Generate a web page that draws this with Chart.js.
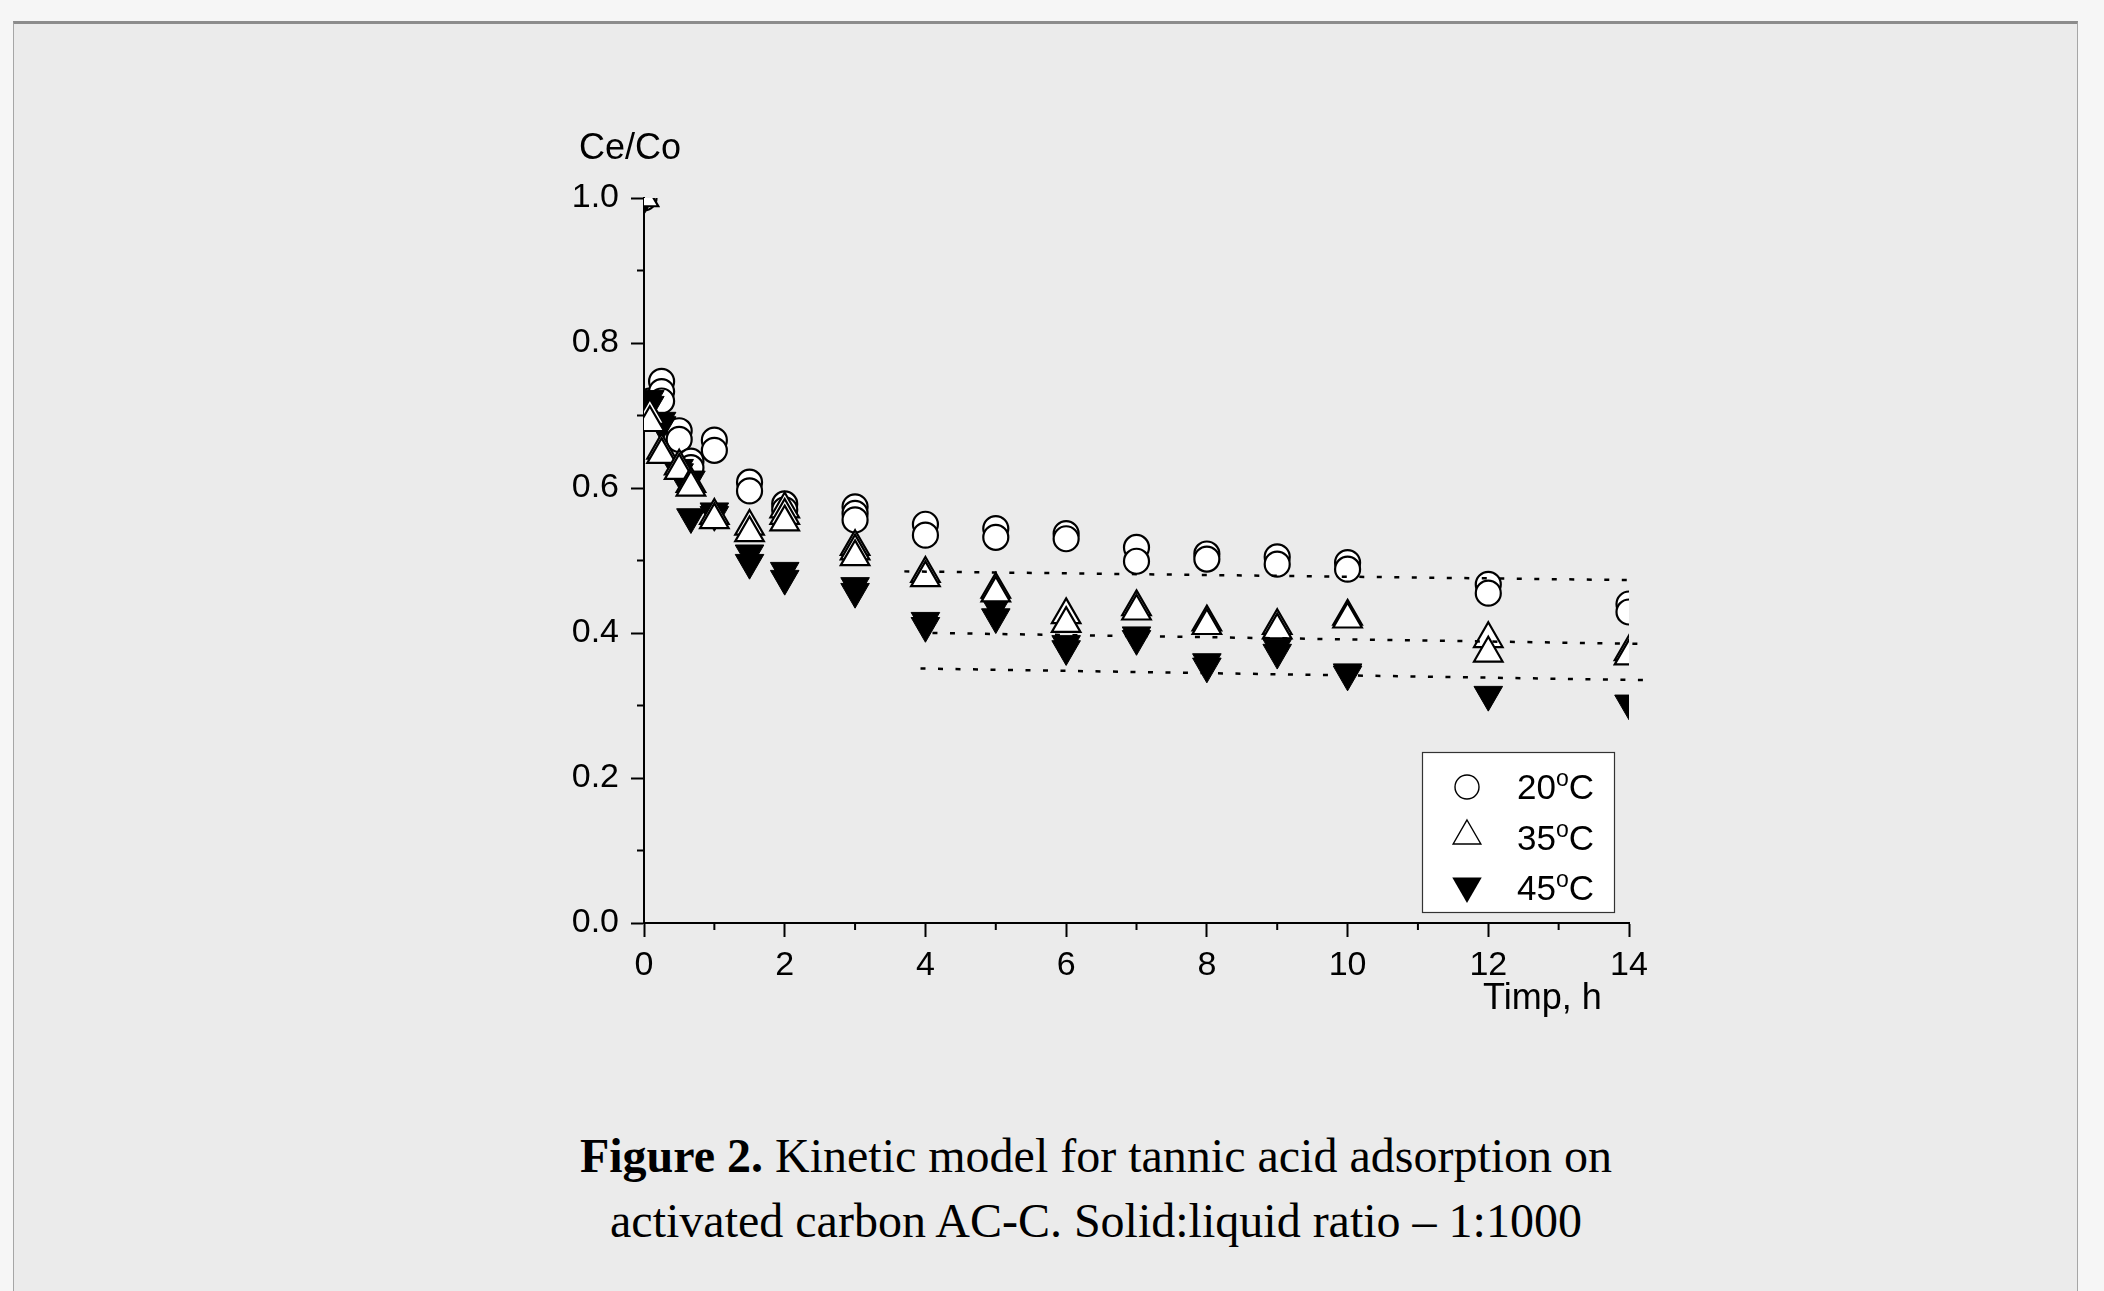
<!DOCTYPE html>
<html>
<head>
<meta charset="utf-8">
<script src="https://cdn.jsdelivr.net/npm/chart.js@4.4.0/dist/chart.umd.min.js"></script>
<style>
  html, body { margin: 0; padding: 0; }
  body { width: 2104px; height: 1291px; background: #f6f6f6; position: relative; overflow: hidden; }
  #card {
    position: absolute; left: 13px; top: 21px; width: 2063px; height: 1300px;
    background: #ebebeb; border: 1px solid #a6a6a6; border-top: 3px solid #8c8c8c;
  }
  #wrap { position: absolute; left: 0; top: 0; width: 2104px; height: 1060px; }
  #caption {
    position: absolute; left: 396px; top: 1123px; width: 1400px;
    text-align: center; font-family: "Liberation Serif", "Times New Roman", serif;
    font-size: 48px; line-height: 65px; color: #000;
  }
</style>
</head>
<body>
<div id="card"></div>
<div id="wrap"><canvas id="chart-kinetic"></canvas></div>
<div id="caption"><b>Figure 2.</b> Kinetic model for tannic acid adsorption on<br>activated carbon AC-C. Solid:liquid ratio – 1:1000</div>
<script>
// 20 oC (open circles)
const t20 = [0, 0.083, 0.083, 0.25, 0.25, 0.25, 0.5, 0.5, 0.667, 0.667, 1, 1, 1.5, 1.5, 2, 2, 3, 3, 3, 4, 4, 5, 5, 6, 6, 7, 7, 8, 8, 9, 9, 10, 10, 12, 12, 14, 14];
const c20 = [1.0, 0.72, 0.71, 0.747, 0.733, 0.72, 0.679, 0.667, 0.637, 0.628, 0.666, 0.652, 0.608, 0.596, 0.578, 0.570, 0.574, 0.565, 0.556, 0.550, 0.535, 0.544, 0.532, 0.537, 0.530, 0.518, 0.499, 0.509, 0.502, 0.505, 0.495, 0.497, 0.488, 0.467, 0.455, 0.440, 0.429];
// 35 oC (open triangles)
const t35 = [0, 0.083, 0.083, 0.25, 0.25, 0.5, 0.5, 0.667, 0.667, 1, 1, 1.5, 1.5, 2, 2, 2, 3, 3, 3, 4, 4, 5, 5, 6, 6, 7, 7, 8, 8, 9, 9, 10, 10, 12, 12, 14, 14];
const c35 = [1.0, 0.70, 0.69, 0.652, 0.646, 0.630, 0.624, 0.606, 0.601, 0.562, 0.556, 0.547, 0.538, 0.571, 0.562, 0.553, 0.519, 0.513, 0.505, 0.482, 0.476, 0.460, 0.455, 0.425, 0.413, 0.436, 0.430, 0.415, 0.410, 0.410, 0.404, 0.423, 0.419, 0.392, 0.372, 0.374, 0.368];
// 45 oC (filled down triangles)
const t45 = [0, 0.083, 0.083, 0.25, 0.25, 0.5, 0.5, 0.667, 0.667, 1, 1, 1.5, 1.5, 2, 2, 3, 3, 4, 4, 5, 5, 6, 6, 7, 7, 8, 8, 9, 9, 10, 10, 12, 14];
const c45 = [1.0, 0.723, 0.715, 0.693, 0.687, 0.628, 0.622, 0.612, 0.560, 0.568, 0.563, 0.510, 0.497, 0.486, 0.475, 0.465, 0.457, 0.417, 0.410, 0.437, 0.422, 0.385, 0.378, 0.397, 0.392, 0.360, 0.354, 0.380, 0.373, 0.346, 0.343, 0.315, 0.303];

// dotted linear fits
const fitX20 = [3.7, 14.0], fitY20 = [0.485, 0.473];
const fitX35 = [4.1, 14.2], fitY35 = [0.400, 0.385];
const fitX45 = [3.93, 14.2], fitY45 = [0.351, 0.335];

const yTicks = [0, 0.2, 0.4, 0.6, 0.8, 1.0];
const yMinor = [0.1, 0.3, 0.5, 0.7, 0.9];
const xTicks = [0, 2, 4, 6, 8, 10, 12, 14];
const xMinor = [1, 3, 5, 7, 9, 11, 13];
const legendLabels = ["20", "35", "45"];

const FONT = "'Liberation Sans', Arial, sans-serif";

function pts(xs, ys) {
    return xs.map((x, i) => ({ x: x, y: ys[i] }));
}

function fitLine(xs, ys) {
    return {
        type: "line",
        data: pts(xs, ys),
        showLine: true,
        borderColor: "#000",
        borderWidth: 2.5,
        borderDash: [5, 12.5],
        borderCapStyle: "butt",
        pointRadius: 0,
        clip: false,
        order: 0,
    };
}

// minor ticks, axis titles and the boxed legend
const extras = {
    id: "extras",
    afterDraw(chart) {
        const c = chart.ctx;
        const a = chart.chartArea;
        const xs = chart.scales.x, ys = chart.scales.y;
        c.save();
        c.strokeStyle = "#000";
        c.lineWidth = 2;
        c.beginPath();
        yMinor.forEach((v) => {
            const p = ys.getPixelForValue(v);
            c.moveTo(a.left - 7, p);
            c.lineTo(a.left, p);
        });
        xMinor.forEach((v) => {
            const p = xs.getPixelForValue(v);
            c.moveTo(p, a.bottom);
            c.lineTo(p, a.bottom + 7);
        });
        c.stroke();

        c.fillStyle = "#000";
        c.font = "36px " + FONT;
        c.textBaseline = "alphabetic";
        c.textAlign = "left";
        c.fillText("Ce/Co", a.left - 65, a.top - 39);
        c.fillText("Timp, h", a.right - 146, a.bottom + 86);

        // legend
        const bx = a.right - 207, by = a.bottom - 171;
        c.fillStyle = "#fff";
        c.fillRect(bx, by, 192, 160);
        c.strokeStyle = "#333";
        c.lineWidth = 1.2;
        c.strokeRect(bx + 0.5, by + 0.5, 192, 160);

        const mx = bx + 45;
        c.lineWidth = 1.4;
        c.strokeStyle = "#000";
        // circle
        c.fillStyle = "#fff";
        c.beginPath();
        c.arc(mx, by + 35, 12, 0, Math.PI * 2);
        c.fill();
        c.stroke();
        // up triangle
        let r = 16, cy = by + 84;
        c.beginPath();
        c.moveTo(mx, cy - r);
        c.lineTo(mx + r * 0.866, cy + r / 2);
        c.lineTo(mx - r * 0.866, cy + r / 2);
        c.closePath();
        c.fill();
        c.stroke();
        // down triangle
        r = 17; cy = by + 134;
        c.fillStyle = "#000";
        c.beginPath();
        c.moveTo(mx, cy + r);
        c.lineTo(mx + r * 0.866, cy - r / 2);
        c.lineTo(mx - r * 0.866, cy - r / 2);
        c.closePath();
        c.fill();

        c.fillStyle = "#000";
        legendLabels.forEach((lab, i) => {
            const base = by + 47 + i * 50.5;
            let x = bx + 95;
            c.font = "35px " + FONT;
            c.fillText(lab, x, base);
            x += c.measureText(lab).width;
            c.font = "23px " + FONT;
            c.fillText("o", x, base - 13);
            x += c.measureText("o").width;
            c.font = "35px " + FONT;
            c.fillText("C", x, base);
        });
        c.restore();
    },
};

const ctx = document.getElementById("chart-kinetic");
const mychart = new Chart(ctx, {
    type: "scatter",
    data: {
        datasets: [
            {
                label: "20oC",
                data: pts(t20, c20),
                pointStyle: "circle",
                pointRadius: 12.5,
                pointBorderWidth: 2.2,
                pointBackgroundColor: "#fff",
                pointBorderColor: "#000",
                order: 3,
            },
            {
                label: "45oC",
                data: pts(t45, c45),
                pointStyle: "triangle",
                pointRotation: 180,
                pointRadius: 16.5,
                pointBorderWidth: 1,
                pointBackgroundColor: "#000",
                pointBorderColor: "#000",
                order: 2,
            },
            {
                label: "35oC",
                data: pts(t35, c35),
                pointStyle: "triangle",
                pointRadius: 16.5,
                pointBorderWidth: 2.2,
                pointBackgroundColor: "#fff",
                pointBorderColor: "#000",
                order: 1,
            },
            fitLine(fitX20, fitY20),
            fitLine(fitX35, fitY35),
            fitLine(fitX45, fitY45),
        ],
    },
    options: {
        responsive: true,
        maintainAspectRatio: false,
        animation: false,
        events: [],
        layout: { padding: { left: 544, right: 475, top: 198, bottom: 37 } },
        plugins: { legend: { display: false }, tooltip: { enabled: false } },
        scales: {
            x: {
                type: "linear",
                min: 0,
                max: 14,
                afterFit: (s) => { s.height = 100; },
                afterBuildTicks: (s) => { s.ticks = xTicks.map((v) => ({ value: v })); },
                ticks: {
                    color: "#000",
                    font: { family: FONT, size: 34 },
                    padding: 8,
                    maxRotation: 0,
                    callback: (v) => String(v),
                },
                grid: { drawOnChartArea: false, tickLength: 14, tickWidth: 2, tickColor: "#000" },
                border: { display: true, color: "#000", width: 2 },
            },
            y: {
                type: "linear",
                min: 0,
                max: 1,
                afterFit: (s) => { s.width = 100; },
                afterBuildTicks: (s) => { s.ticks = yTicks.map((v) => ({ value: v })); },
                ticks: {
                    color: "#000",
                    font: { family: FONT, size: 34 },
                    padding: 12,
                    callback: (v) => v.toFixed(1),
                },
                grid: { drawOnChartArea: false, tickLength: 13, tickWidth: 2, tickColor: "#000" },
                border: { display: true, color: "#000", width: 2 },
            },
        },
    },
    plugins: [extras],
});
</script>
</body>
</html>
